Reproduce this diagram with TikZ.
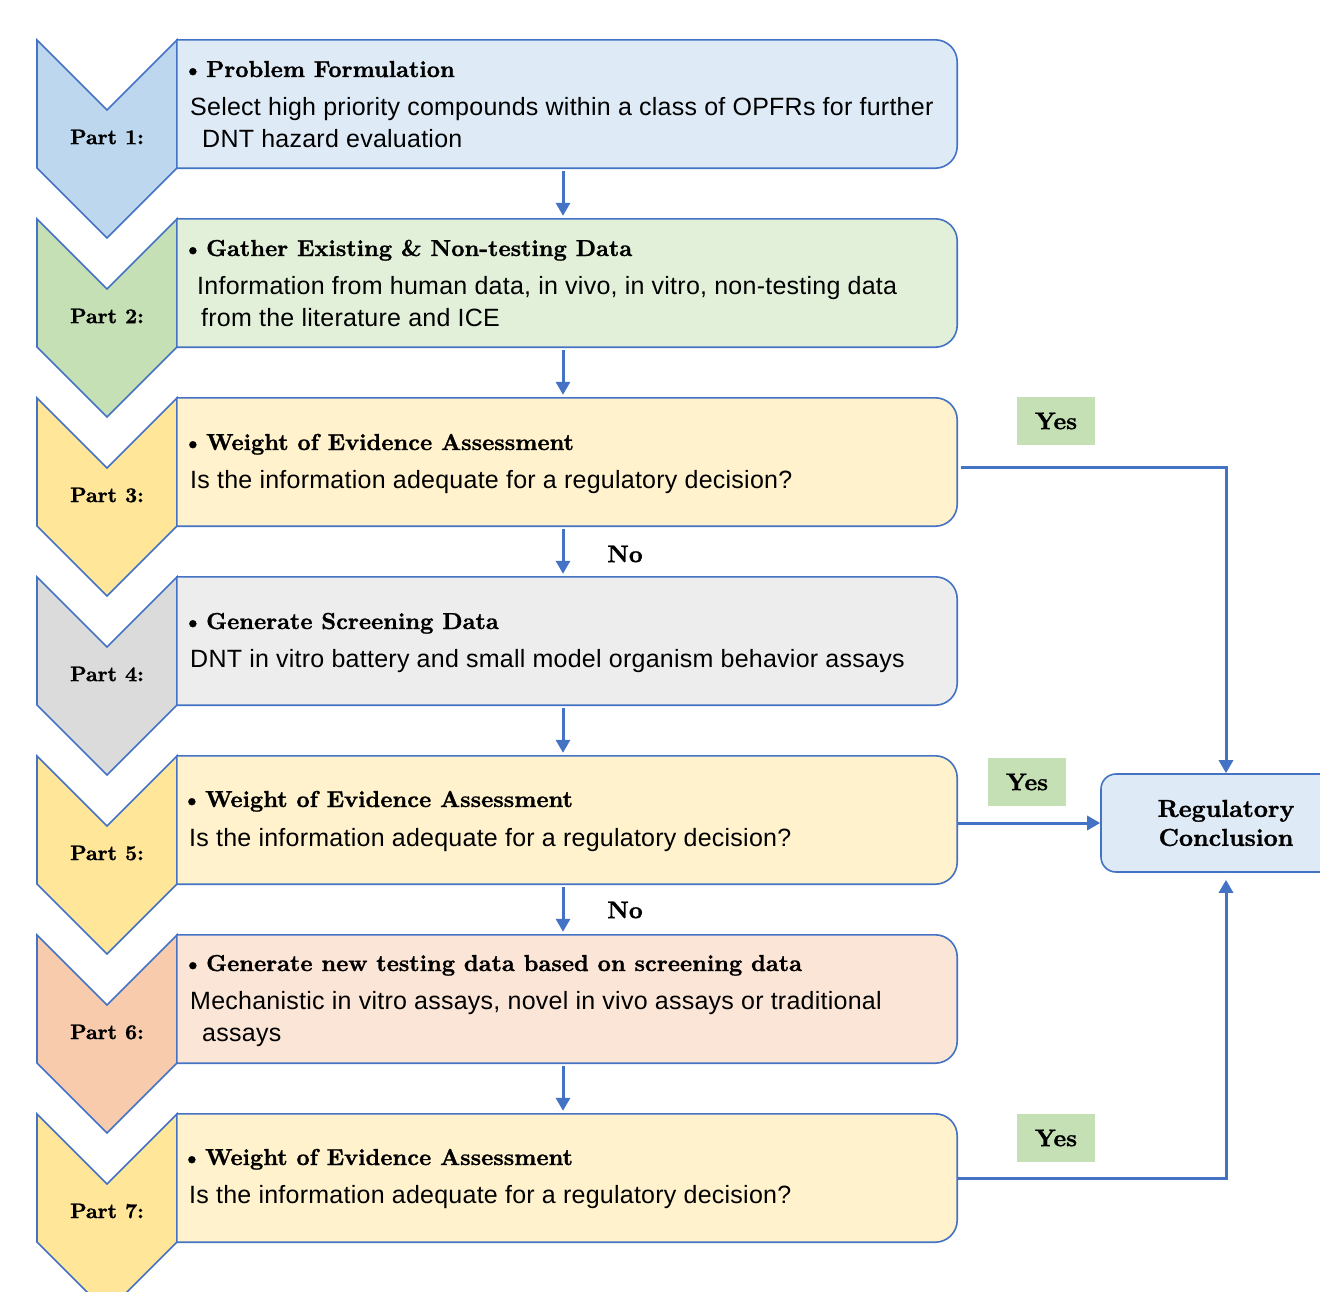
\documentclass[tikz,border=0pt]{standalone}
\usepackage{fontspec}
\newfontfamily\bodyfont[LetterSpace=1]{Liberation Sans}
\newfontfamily\hfont{lmroman10-bold}[Extension=.otf, FakeBold=1.2]
\usetikzlibrary{arrows.meta}
\definecolor{lineblue}{HTML}{4472C4}
\definecolor{fblue}{HTML}{DEEBF7}
\definecolor{cblue}{HTML}{BDD7EE}
\definecolor{fgreen}{HTML}{E2F0D9}
\definecolor{cgreen}{HTML}{C5E0B4}
\definecolor{fyellow}{HTML}{FFF2CC}
\definecolor{cyellow}{HTML}{FFE699}
\definecolor{fgray}{HTML}{EDEDED}
\definecolor{cgray}{HTML}{DBDBDB}
\definecolor{fpeach}{HTML}{FBE5D6}
\definecolor{cpeach}{HTML}{F8CBAD}
\definecolor{yesgreen}{HTML}{C5E0B4}
\newcommand\rrbox[2]{\draw[outl, fill=#2] (#1.south west) -- (#1.north west) -- ([xshift=-22pt]#1.north east) arc[start angle=90,end angle=0,radius=22pt] -- ([yshift=22pt]#1.south east) arc[start angle=0,end angle=-90,radius=22pt] -- cycle;}
\newcommand\chev[2]{\draw[outl, fill=#2] (37,{-(#1)}) -- (107,{-(#1+70)}) -- (177,{-(#1)}) -- (177,{-(#1+128)}) -- (107,{-(#1+198)}) -- (37,{-(#1+128)}) -- cycle;}
\newcommand\bul{\llap{\textbullet\hspace{3pt}}}
\tikzset{
  outl/.style={draw=lineblue, line width=1.6pt, line join=miter},
  boxn/.style={minimum width=780pt, minimum height=128pt, inner sep=0pt},
  ttl/.style={font=\hfont\fontsize{23.1}{28}\selectfont, anchor=base west, inner sep=0pt},
  bod/.style={font=\bodyfont\fontsize{25}{30}\selectfont, anchor=base west, inner sep=0pt},
  partl/.style={font=\hfont\fontsize{21}{24}\selectfont, inner sep=0pt},
  arr/.style={draw=lineblue, line width=3pt, -{Triangle[length=13pt,width=14pt]}},
  yesn/.style={fill=yesgreen, minimum width=78pt, minimum height=48pt, inner sep=0pt, font=\hfont\fontsize{24}{28}\selectfont},
  non/.style={inner sep=0pt, font=\hfont\fontsize{24}{28}\selectfont},
  regn/.style={draw=lineblue, line width=1.6pt, fill=fblue, rounded corners=15pt, minimum width=250pt, minimum height=98pt, align=center, font=\hfont\fontsize{24.5}{29}\selectfont},
}
\begin{document}
\begin{tikzpicture}[x=1pt,y=1pt]
\useasboundingbox (0,0) rectangle (1320,-1291);
\clip (0,0) rectangle (1320,-1291);
\fill[white] (0,0) rectangle (1320,-1291);
% chevrons
\chev{40}{cblue}
\chev{219}{cgreen}
\chev{398}{cyellow}
\chev{577}{cgray}
\chev{756}{cyellow}
\chev{935}{cpeach}
\chev{1114}{cyellow}
% boxes
\node[boxn] (b1) at (567,-104) {};
\node[boxn] (b2) at (567,-283) {};
\node[boxn] (b3) at (567,-462) {};
\node[boxn] (b4) at (567,-641) {};
\node[boxn] (b5) at (567,-820) {};
\node[boxn] (b6) at (567,-999) {};
\node[boxn] (b7) at (567,-1178) {};
\rrbox{b1}{fblue}
\rrbox{b2}{fgreen}
\rrbox{b3}{fyellow}
\rrbox{b4}{fgray}
\rrbox{b5}{fyellow}
\rrbox{b6}{fpeach}
\rrbox{b7}{fyellow}
% part labels
\node[partl] (p1) at (107,-137) {Part 1:};
\node[partl] (p2) at (107,-316) {Part 2:};
\node[partl] (p3) at (107,-495) {Part 3:};
\node[partl] (p4) at (107,-674) {Part 4:};
\node[partl] (p5) at (107,-853) {Part 5:};
\node[partl] (p6) at (107,-1032) {Part 6:};
\node[partl] (p7) at (107,-1211) {Part 7:};
% texts
\node[ttl] (t1) at (206,-77) {\bul Problem Formulation};
\node[bod] (d1a) at (190,-115) {Select high priority compounds within a class of OPFRs for further};
\node[bod] (d1b) at (202,-147) {DNT hazard evaluation};
\node[ttl] (t2) at (206,-256) {\bul Gather Existing \& Non-testing Data};
\node[bod] (d2a) at (197,-294) {Information from human data, in vivo, in vitro, non-testing data};
\node[bod] (d2b) at (201,-326) {from the literature and ICE};
\node[ttl] (t3) at (206,-450) {\bul Weight of Evidence Assessment};
\node[bod] (d3) at (190,-488) {Is the information adequate for a regulatory decision?};
\node[ttl] (t4) at (206,-629) {\bul Generate Screening Data};
\node[bod] (d4) at (190,-667) {DNT in vitro battery and small model organism behavior assays};
\node[ttl] (t5) at (205,-807) {\bul Weight of Evidence Assessment};
\node[bod] (d5) at (189,-846) {Is the information adequate for a regulatory decision?};
\node[ttl] (t6) at (206,-971) {\bul Generate new testing data based on screening data};
\node[bod] (d6a) at (190,-1009) {Mechanistic in vitro assays, novel in vivo assays or traditional};
\node[bod] (d6b) at (202,-1041) {assays};
\node[ttl] (t7) at (205,-1165) {\bul Weight of Evidence Assessment};
\node[bod] (d7) at (189,-1203) {Is the information adequate for a regulatory decision?};
% vertical arrows
\draw[arr, shorten <=3pt, shorten >=3pt] ([xshift=-4pt]b1.south) -- ([xshift=-4pt]b2.north);
\draw[arr, shorten <=3pt, shorten >=3pt] ([xshift=-4pt]b2.south) -- ([xshift=-4pt]b3.north);
\draw[arr, shorten <=3pt, shorten >=3pt] ([xshift=-4pt]b3.south) -- ([xshift=-4pt]b4.north);
\draw[arr, shorten <=3pt, shorten >=3pt] ([xshift=-4pt]b4.south) -- ([xshift=-4pt]b5.north);
\draw[arr, shorten <=3pt, shorten >=3pt] ([xshift=-4pt]b5.south) -- ([xshift=-4pt]b6.north);
\draw[arr, shorten <=3pt, shorten >=3pt] ([xshift=-4pt]b6.south) -- ([xshift=-4pt]b7.north);
\node[non] (n1) at (625,-554) {No};
\node[non] (n2) at (625,-910) {No};
% regulatory conclusion
\node[regn] (reg) at (1226,-823) {Regulatory\\Conclusion};
\draw[arr] ([xshift=4pt,yshift=-5pt]b3.east) -| (reg.north);
\draw[arr] (b5.east |- reg.west) -- (reg.west);
\draw[arr, shorten >=7pt] (b7.east) -| (reg.south);
\node[yesn] (y1) at (1056,-421) {Yes};
\node[yesn] (y2) at (1027,-782) {Yes};
\node[yesn] (y3) at (1056,-1138) {Yes};
\end{tikzpicture}
\end{document}
